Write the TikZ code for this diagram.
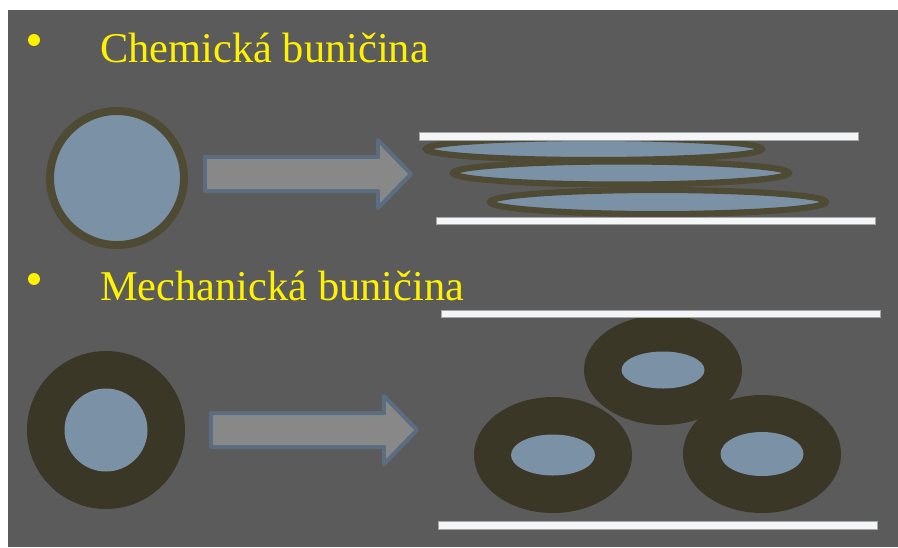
\documentclass[tikz,border=0pt]{standalone}
\usepackage{fontspec}
\setmainfont{Liberation Serif}
\usepackage{xcolor}

\definecolor{slidegray}{HTML}{5B5B5B}
\definecolor{fibreblue}{HTML}{7B91A5}
\definecolor{cellwall}{HTML}{4F4A33}
\definecolor{thickwall}{HTML}{3B3727}
\definecolor{arrowfill}{HTML}{888888}
\definecolor{arrowedge}{HTML}{5B6D80}
\definecolor{barwhite}{HTML}{F3F5F7}

\begin{document}
\begin{tikzpicture}[x=0.03cm, y=-0.03cm,
    heading/.style={anchor=base west, text=yellow, inner sep=0pt, font=\fontsize{36.2}{40}\selectfont},
    bulletdot/.style={circle, fill=yellow, inner sep=0pt, minimum size=10.2pt},
    fibre/.style={draw=cellwall, line width=6.8pt, fill=fibreblue},
    flatfibre/.style={draw=cellwall, line width=5.2pt, fill=fibreblue},
    press/.style={fill=barwhite, draw=gray!70, line width=0.6pt},
    arrowbody/.style={fill=arrowfill, draw=arrowedge, line width=3.4pt, line join=round}]

    \tikzset{pics/fatarrow/.style={code={
        \draw[arrowbody] (0,-17) -- (173,-17) -- (173,-34) -- (206,0)
            -- (173,34) -- (173,17) -- (0,17) -- cycle;}}}

    \useasboundingbox (0,0) rectangle (898,547);
    \fill[white] (0,0) rectangle (898,547);
    \fill[slidegray] (8,10) rectangle (898,547);

    % headings
    \node[bulletdot] (b1) at (34,40) {};
    \node[heading] (chem) at (100,62) {Chemická buničina};
    \node[bulletdot] (b2) at (34,279) {};
    \node[heading] (mech) at (100,300) {Mechanická buničina};

    % chemical pulp: thin wall, collapses flat
    \draw[fibre] (117,178) circle [radius=67];
    \pic at (205,174) {fatarrow};
    \draw[flatfibre] (594,149) ellipse [x radius=168, y radius=11];
    \draw[flatfibre] (621,173) ellipse [x radius=168, y radius=11.5];
    \draw[flatfibre] (658,202) ellipse [x radius=168, y radius=12];
    \draw[press] (419,132) rectangle (858,140);
    \draw[press] (436,217) rectangle (875,224);

    % mechanical pulp: thick wall, stays round
    \fill[thickwall] (106,430) circle [radius=79];
    \fill[fibreblue] (106,430) circle [radius=41.5];
    \pic at (211,430) {fatarrow};
    \fill[thickwall] (553,455) ellipse [x radius=79, y radius=58];
    \fill[thickwall] (762,454) ellipse [x radius=79, y radius=59];
    \fill[thickwall] (663,370) ellipse [x radius=79, y radius=55];
    \fill[fibreblue] (553,455) ellipse [x radius=42, y radius=20.5];
    \fill[fibreblue] (762,454) ellipse [x radius=41.5, y radius=22];
    \fill[fibreblue] (663,370) ellipse [x radius=41.5, y radius=18.5];
    \draw[press] (441,310) rectangle (880,317);
    \draw[press] (438,521) rectangle (877,529);

\end{tikzpicture}
\end{document}
